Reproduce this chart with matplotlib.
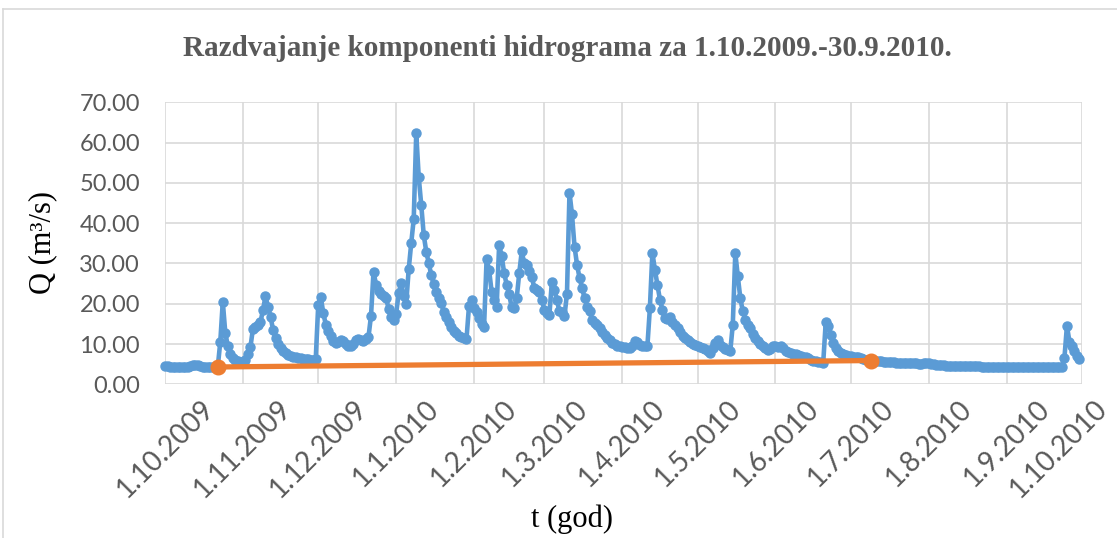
import numpy as np
import pandas as pd
import matplotlib
matplotlib.use("Agg")
import matplotlib.pyplot as plt
import matplotlib.transforms as mtransforms
from matplotlib.lines import Line2D

# Dnevni protoci Q (m3/s) po mjesecima, hidrološka godina 2009/2010
q_oct09 = [4.5, 4.5, 4.4, 4.4, 4.4, 4.3, 4.3, 4.3, 4.4, 4.4, 4.5, 4.7, 4.9, 4.7, 4.5, 4.4,
           4.3, 4.3, 4.2, 4.2, 4.2, 4.3, 10.5, 20.5, 12.8, 9.5, 7.5, 6.5, 6.0, 5.8, 5.6]
q_nov09 = [5.6, 6.0, 7.5, 9.2, 13.8, 14.2, 14.6, 15.4, 18.5, 21.8, 19.3, 16.8, 13.6, 11.5, 10.0,
           8.9, 8.2, 7.7, 7.3, 7.1, 6.9, 6.7, 6.6, 6.5, 6.4, 6.3, 6.2, 6.1, 6.0, 6.3]
q_dec09 = [19.8, 21.7, 17.7, 14.8, 13.2, 12.0, 10.8, 10.3, 10.6, 11.0, 10.7, 10.1, 9.6, 9.4, 10.0,
           11.0, 11.2, 10.9, 10.7, 11.2, 11.8, 17.0, 28.0, 24.7, 23.2, 22.4, 21.9, 21.5, 18.7, 16.8, 16.0]
q_jan10 = [17.5, 22.6, 25.2, 22.0, 20.0, 28.5, 35.0, 41.0, 62.3, 51.4, 44.5, 37.0, 32.9, 30.0, 27.1,
           25.0, 22.9, 21.4, 20.1, 18.0, 16.8, 15.5, 14.3, 13.3, 12.7, 12.1, 11.7, 11.4, 11.2, 19.4, 20.9]
q_feb10 = [19.0, 18.0, 16.5, 15.0, 14.3, 31.0, 28.4, 23.0, 21.0, 19.1, 34.6, 31.9, 27.6, 24.7,
           22.3, 19.1, 18.9, 21.4, 27.6, 33.0, 30.0, 29.6, 28.2, 26.7, 23.9, 23.5, 23.0, 20.9]
q_mar10 = [18.5, 17.6, 17.2, 25.5, 23.4, 21.0, 18.1, 18.0, 16.9, 22.5, 47.6, 42.2, 34.2, 29.7, 26.4,
           23.9, 21.4, 19.3, 18.1, 16.0, 15.3, 14.8, 14.0, 13.1, 12.3, 11.5, 10.9, 10.3, 9.9, 9.6, 9.4]
q_apr10 = [9.3, 9.3, 9.1, 8.9, 9.5, 10.7, 10.4, 9.8, 9.6, 9.5, 9.4, 18.9, 32.7, 28.4, 24.7,
           21.0, 18.5, 16.4, 16.2, 16.8, 15.5, 14.7, 13.9, 12.9, 12.0, 11.5, 11.0, 10.5, 10.1, 9.7]
q_may10 = [9.4, 9.2, 9.0, 8.8, 8.3, 7.8, 9.0, 10.3, 11.1, 9.8, 9.2, 8.7, 8.4, 8.2, 14.8, 32.6,
           26.8, 21.4, 18.1, 16.0, 14.8, 13.9, 12.5, 11.5, 10.8, 10.0, 9.6, 9.1, 8.6, 8.8, 9.4]
q_jun10 = [9.6, 9.3, 9.4, 8.9, 8.3, 7.9, 7.7, 7.5, 7.4, 7.3, 7.1, 6.9, 6.7, 6.5, 6.1,
           5.8, 5.7, 5.6, 5.6, 5.4, 15.5, 14.5, 12.3, 10.2, 9.0, 8.3, 7.8, 7.5, 7.3, 7.1]
q_jul10 = [7.0, 6.9, 6.8, 6.7, 6.5, 6.3, 6.1, 6.0, 5.9, 5.8, 5.8, 5.7, 5.7, 5.6, 5.6, 5.5,
           5.5, 5.5, 5.4, 5.4, 5.4, 5.3, 5.3, 5.3, 5.2, 5.2, 5.2, 5.1, 5.1, 5.2, 5.3]
q_aug10 = [5.2, 5.1, 5.0, 4.9, 4.8, 4.7, 4.7, 4.6, 4.6, 4.6, 4.6, 4.6, 4.5, 4.5, 4.5, 4.5,
           4.5, 4.5, 4.5, 4.5, 4.5, 4.4, 4.4, 4.4, 4.4, 4.4, 4.4, 4.4, 4.4, 4.4, 4.4]
q_sep10 = [4.4, 4.4, 4.4, 4.4, 4.4, 4.3, 4.3, 4.3, 4.3, 4.3, 4.3, 4.3, 4.3, 4.3, 4.3,
           4.3, 4.3, 4.3, 4.3, 4.3, 4.3, 4.3, 4.3, 6.5, 14.5, 10.6, 9.6, 8.2, 7.0, 6.2]

# Bazni tok: pravac od početka do kraja razdvajanja (redni dan, Q)
bazni_dani = [21, 281]
bazni_q = [4.3, 5.9]

naslov = "Razdvajanje komponenti hidrograma za 1.10.2009.-30.9.2010."

q = np.concatenate([q_oct09, q_nov09, q_dec09, q_jan10, q_feb10, q_mar10,
                    q_apr10, q_may10, q_jun10, q_jul10, q_aug10, q_sep10])
dani = np.arange(len(q))

mjeseci = pd.date_range("2009-10-01", "2010-10-01", freq="MS")
tick_dani = (mjeseci - mjeseci[0]).days
tick_txt = [f"{d.day}.{d.month}.{d.year}" for d in mjeseci]

siva = "#595959"
grid_c = "#d9d9d9"

W, H = 1117, 538
fig = plt.figure(figsize=(W / 100, H / 100), dpi=100)
ax = fig.add_axes([165 / W, 1 - 384.3 / H, 917 / W, 282 / H])

ax.plot(dani, q, color="#5B9BD5", lw=3.3, marker="o", ms=6.5, zorder=3, clip_on=False)
ax.plot(bazni_dani, bazni_q, color="#ED7D31", lw=3.8, marker="o", ms=10.5, zorder=4, clip_on=False)

ax.set_xlim(0, 365)
ax.set_ylim(0, 70)
ax.set_yticks(np.arange(0, 71, 10))
ax.set_yticklabels([f"{v:.2f}" for v in np.arange(0, 71, 10)])
ax.set_xticks(tick_dani)
ax.set_xticklabels(tick_txt, rotation=45, ha="center", va="top")

for s in ax.spines.values():
    s.set_visible(False)
ax.grid(True, color=grid_c, lw=1.2, zorder=0)
ax.set_axisbelow(True)
ax.tick_params(length=0, colors=siva)
ax.tick_params(axis="y", pad=18, labelsize=17)
ax.tick_params(axis="x", pad=8, labelsize=20)
for t in ax.get_xticklabels() + ax.get_yticklabels():
    t.set_family("Lato")

# zadnju oznaku malo ulijevo da stane u sliku
zadnja = ax.get_xticklabels()[-1]
zadnja.set_transform(zadnja.get_transform() +
                     mtransforms.ScaledTranslation(-24 / 100, 0, fig.dpi_scale_trans))

fig.text(567 / W, 1 - 48 / H, naslov, ha="center", va="center", fontsize=21,
         weight="bold", family="Liberation Serif", color=siva)
fig.text(43 / W, 1 - 243 / H, "Q (m³/s)", rotation=90, ha="center", va="center",
         fontsize=22, family="Liberation Serif", color="black")
fig.text(572 / W, 1 - 519 / H, "t (god)", ha="center", va="center",
         fontsize=22, family="Liberation Serif", color="black")

# okvir grafikona
fig.add_artist(Line2D([3 / W, 1], [1 - 9 / H, 1 - 9 / H], transform=fig.transFigure, color=grid_c, lw=1.2))
fig.add_artist(Line2D([3 / W, 3 / W], [0, 1 - 9 / H], transform=fig.transFigure, color=grid_c, lw=1.2))

fig.savefig("out.png", dpi=100)
